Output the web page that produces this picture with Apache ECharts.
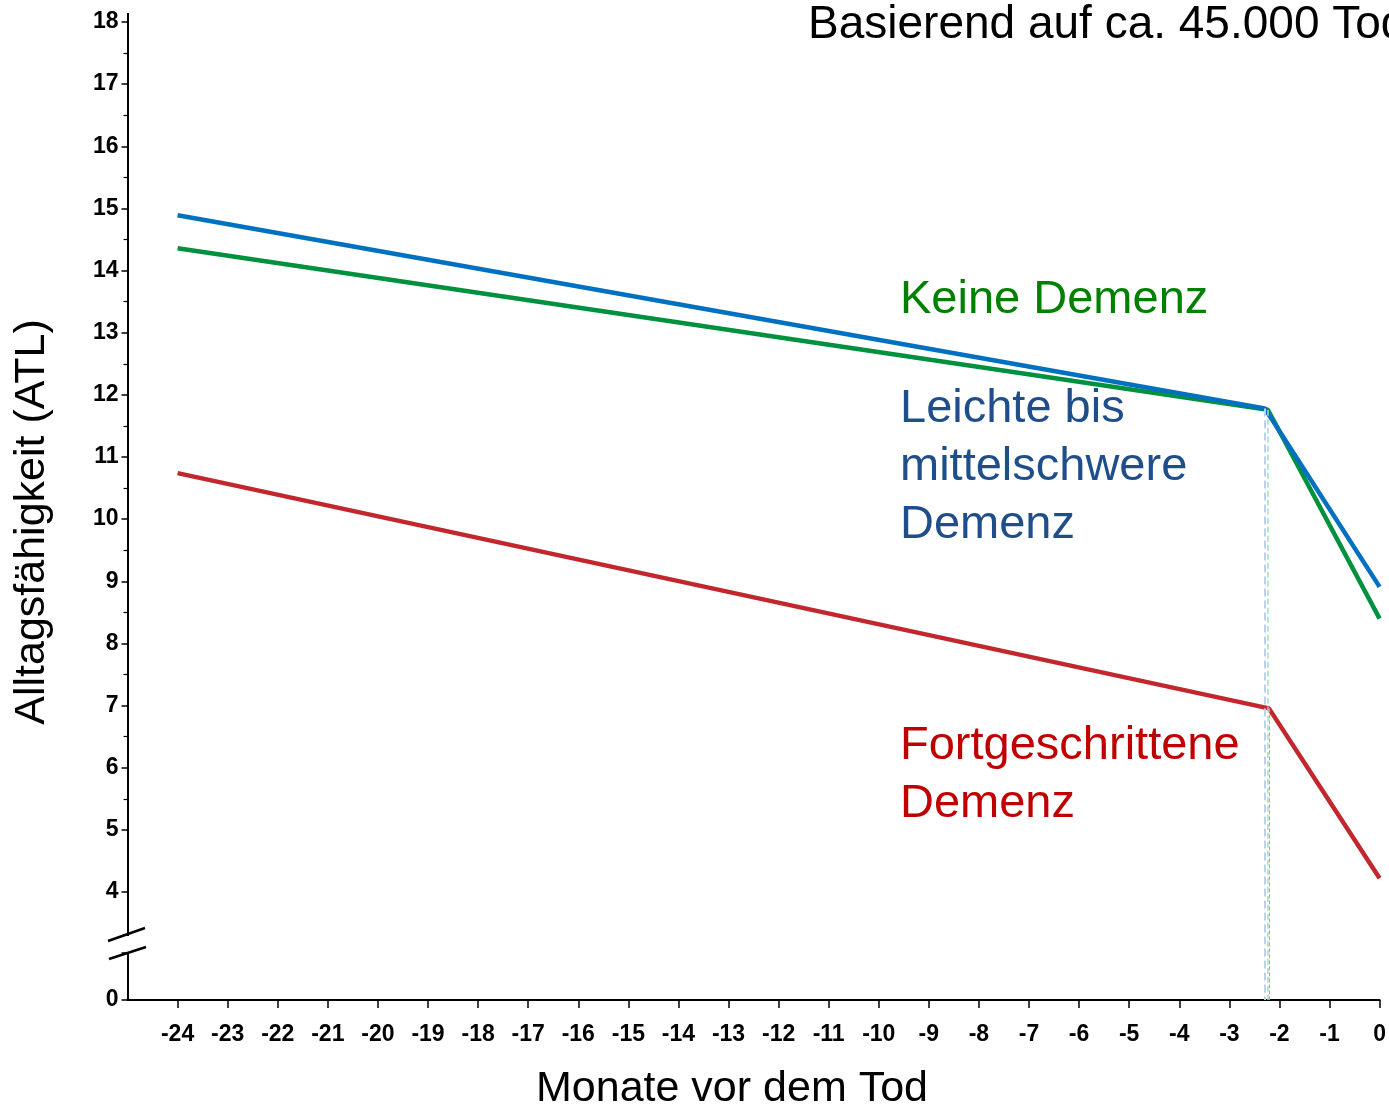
<!DOCTYPE html>
<html>
<head>
<meta charset="utf-8">
<script src="https://cdn.jsdelivr.net/npm/echarts@6/dist/echarts.min.js"></script>
<style>html,body{margin:0;padding:0;background:#fff;}#c{width:1389px;height:1107px;}</style>
</head>
<body>
<div id="c"></div>
<script>
// Data (months before death, ATL score) — [month, value] at start, knee, end
var keineDemenz = [[-24, 14.36], [-2.23, 11.76], [0, 8.40]];
var leichteDemenz = [[-24, 14.89], [-2.29, 11.78], [0, 8.91]];
var fortDemenz = [[-24, 10.74], [-2.21, 6.955], [0, 4.22]];
var seriesNames = ['Keine Demenz', 'Leichte bis mittelschwere Demenz', 'Fortgeschrittene Demenz'];
var xRange = [-25, 0];
var yRange = [0, 18];
var yBreak = [0.756, 4];

var chart = echarts.init(document.getElementById('c'), null, {renderer: 'canvas'});
var FONT = 'Liberation Sans, Arial, sans-serif';

function dashLine(d, color, w) {
  var k = d[1];
  return {
    silent: true, symbol: 'none', animation: false,
    label: {show: false},
    lineStyle: {type: 'dashed', color: color, width: w},
    data: [[{coord: [k[0], k[1]]}, {coord: [k[0], yRange[0]]}]]
  };
}

var option = {
  animation: false,
  backgroundColor: '#fff',
  grid: {left: 127.5, right: 7.3, top: 22, bottom: 107, containLabel: false},
  xAxis: {
    type: 'value', min: xRange[0], max: xRange[1], interval: 1,
    axisLine: {show: true, onZero: false, lineStyle: {color: '#000', width: 2}},
    axisTick: {show: true, length: 8, lineStyle: {color: '#000', width: 1.5}},
    axisLabel: {showMinLabel: false, color: '#000', fontSize: 23, fontWeight: 'bold', fontFamily: FONT, margin: 23},
    splitLine: {show: false}
  },
  yAxis: {
    type: 'value', min: yRange[0], max: yRange[1], interval: 1,
    breaks: [{start: yBreak[0], end: yBreak[1], gap: '6.24%'}],
    breakArea: {show: false},
    breakLabelLayout: {moveOverlap: false},
    axisLine: {show: true, onZero: false, lineStyle: {color: '#000', width: 2}},
    axisTick: {show: true, length: 6, lineStyle: {color: '#000', width: 1.5}},
    minorTick: {show: true, splitNumber: 2, length: 4, lineStyle: {color: '#000', width: 1.2}},
    axisLabel: {color: '#000', fontSize: 23, fontWeight: 'bold', fontFamily: FONT, margin: 9,
      padding: [6, 0, 0, 0], hideOverlap: false,
      formatter: function (v) { return Math.abs(v - Math.round(v)) < 1e-6 ? String(Math.round(v)) : ''; }},
    splitLine: {show: false}
  },
  series: [
    {name: seriesNames[0], type: 'line', data: keineDemenz, symbol: 'none', z: 3,
     lineStyle: {color: '#00913f', width: 4.5}, markLine: dashLine(keineDemenz, '#a6dcc0', 1.5)},
    {name: seriesNames[1], type: 'line', data: leichteDemenz, symbol: 'none', z: 4,
     lineStyle: {color: '#0070c0', width: 4.5}, markLine: dashLine(leichteDemenz, '#b8d4ec', 2)},
    {name: seriesNames[2], type: 'line', data: fortDemenz, symbol: 'none', z: 3,
     lineStyle: {color: '#c1272d', width: 4.5}, markLine: dashLine(fortDemenz, '#f09090', 1)}
  ],
  graphic: [
    {type: 'text', left: 808, top: 2, style: {text: 'Basierend auf ca. 45.000 Todesfällen', fontSize: 46, fontFamily: FONT, fill: '#000'}},
    {type: 'text', left: 900, top: 277, style: {text: 'Keine Demenz', fontSize: 47, fontFamily: FONT, fill: '#008000'}},
    {type: 'text', left: 900, top: 380, style: {text: 'Leichte bis\nmittelschwere\nDemenz', fontSize: 47, lineHeight: 58, fontFamily: FONT, fill: '#1f4e8a'}},
    {type: 'text', left: 900, top: 717, style: {text: 'Fortgeschrittene\nDemenz', fontSize: 47, lineHeight: 58, fontFamily: FONT, fill: '#c00000'}},
    {type: 'text', left: 536, top: 1068, style: {text: 'Monate vor dem Tod', fontSize: 43, fontFamily: FONT, fill: '#000'}},
    {type: 'text', x: 11, y: 522, rotation: Math.PI / 2, style: {text: 'Alltagsfähigkeit (ATL)', fontSize: 43, fontFamily: FONT, fill: '#000', align: 'center', verticalAlign: 'top'}},
    {type: 'line', shape: {x1: 128, y1: 13, x2: 128, y2: 23}, style: {stroke: '#000', lineWidth: 2}},
    {type: 'line', shape: {x1: 128, y1: 890, x2: 128, y2: 936}, style: {stroke: '#000', lineWidth: 2}},
    {type: 'line', shape: {x1: 108, y1: 941, x2: 145, y2: 928}, style: {stroke: '#000', lineWidth: 2.5}},
    {type: 'line', shape: {x1: 109, y1: 959, x2: 146, y2: 947}, style: {stroke: '#000', lineWidth: 2.5}}
  ]
};
chart.setOption(option);
</script>
</body>
</html>
